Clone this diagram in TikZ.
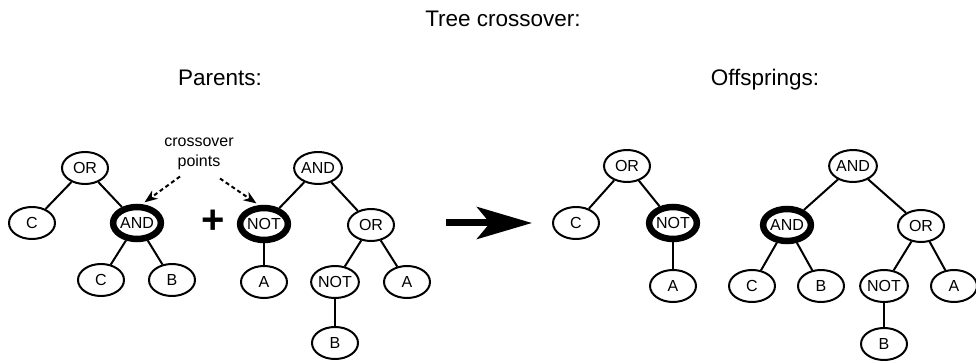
\documentclass[tikz,border=0pt]{standalone}
\usepackage{fontspec}
\setmainfont{Liberation Sans}
\usetikzlibrary{shapes.geometric, arrows.meta}

\begin{document}
\begin{tikzpicture}[x = 1pt, y = -1pt,
    nodo/.style = {draw, ellipse, line width = 2pt, minimum width = 46pt, minimum height = 32pt, inner sep = 0pt, font = \fontsize{16}{19}\selectfont},
    nodoX/.style = {nodo, line width = 6.5pt},
    ramo/.style = {line width = 2pt},
    titolo/.style = {anchor = base, font = \fontsize{22.5}{27}\selectfont},
    punti/.style = {line width = 2pt, dash pattern = on 4pt off 3pt, -{Stealth[length = 13pt, width = 10pt, inset = 4pt]}, shorten > = 3pt}]
    \useasboundingbox (0,0) rectangle (976,363);
    % Titoli
    \node[titolo] (tit) at (503,27) {Tree crossover:};
    \node[titolo] (gen) at (220,86) {Parents:};
    \node[titolo] (fig) at (765,86) {Offsprings:};
    % Primo genitore
    \node[nodo] (p1or) at (85,168) {OR};
    \node[nodo] (p1c) at (32,223) {C};
    \node[nodoX] (p1and) at (137,223) {AND};
    \node[nodo] (p1c2) at (101,280) {C};
    \node[nodo] (p1b) at (172,280) {B};
    \draw[ramo] (p1or) -- (p1c);
    \draw[ramo] (p1or) -- (p1and);
    \draw[ramo] (p1and) -- (p1c2);
    \draw[ramo] (p1and) -- (p1b);
    % +
    \node[font = \fontsize{40}{40}\selectfont\bfseries] (piu) at (213,222) {+};
    % Secondo genitore
    \node[nodo] (p2and) at (318,168) {AND};
    \node[nodoX] (p2not) at (264,224) {NOT};
    \node[nodo] (p2or) at (371,225) {OR};
    \node[nodo] (p2a) at (264,282) {A};
    \node[nodo] (p2not2) at (335,282) {NOT};
    \node[nodo] (p2a2) at (407,282) {A};
    \node[nodo] (p2b) at (335,343) {B};
    \draw[ramo] (p2and) -- (p2not);
    \draw[ramo] (p2and) -- (p2or);
    \draw[ramo] (p2not) -- (p2a);
    \draw[ramo] (p2or) -- (p2not2);
    \draw[ramo] (p2or) -- (p2a2);
    \draw[ramo] (p2not2) -- (p2b);
    % Punti di crossover
    \node[font = \fontsize{16}{20}\selectfont, align = center] (cross) at (199,154) {crossover\\points};
    \draw[punti] ([xshift = -19pt, yshift = -3pt]cross.south) -- (p1and.75);
    \draw[punti] ([xshift = 21pt, yshift = -5pt]cross.south) -- (p2not.105);
    % Freccia
    \coordinate (fA) at (446,223);
    \coordinate (fB) at (532,223);
    \draw[line width = 7pt, -{Stealth[length = 55pt, width = 32pt, inset = 13pt]}] (fA) -- (fB);
    % Primo figlio
    \node[nodo] (f1or) at (627,166) {OR};
    \node[nodo] (f1c) at (576,223) {C};
    \node[nodoX] (f1not) at (673,223) {NOT};
    \node[nodo] (f1a) at (673,286) {A};
    \draw[ramo] (f1or) -- (f1c);
    \draw[ramo] (f1or) -- (f1not);
    \draw[ramo] (f1not) -- (f1a);
    % Secondo figlio
    \node[nodo] (f2and) at (853,166) {AND};
    \node[nodoX] (f2and2) at (787,225) {AND};
    \node[nodo] (f2or) at (921,226) {OR};
    \node[nodo] (f2c) at (752,286) {C};
    \node[nodo] (f2b) at (821,286) {B};
    \node[nodo] (f2not) at (884,286) {NOT};
    \node[nodo] (f2a) at (954,286) {A};
    \node[nodo] (f2b2) at (884,344) {B};
    \draw[ramo] (f2and) -- (f2and2);
    \draw[ramo] (f2and) -- (f2or);
    \draw[ramo] (f2and2) -- (f2c);
    \draw[ramo] (f2and2) -- (f2b);
    \draw[ramo] (f2or) -- (f2not);
    \draw[ramo] (f2or) -- (f2a);
    \draw[ramo] (f2not) -- (f2b2);
\end{tikzpicture}
\end{document}
